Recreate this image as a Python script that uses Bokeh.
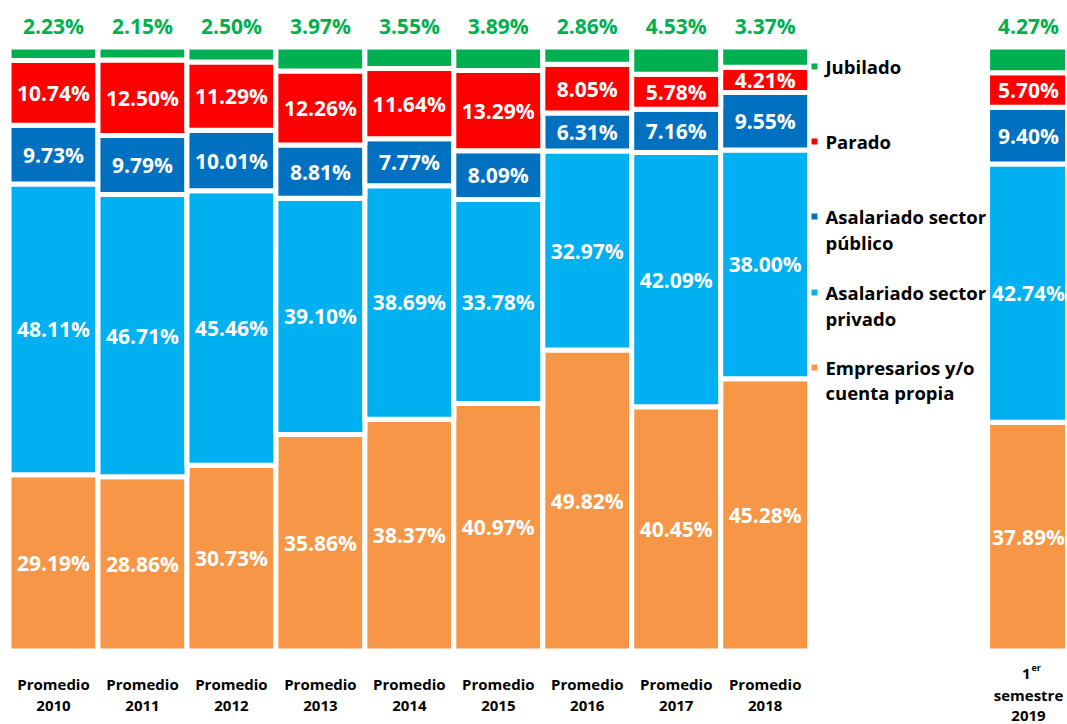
from bokeh.plotting import figure
from bokeh.models import ColumnDataSource, Range1d
from bokeh.core.properties import value
from bokeh.embed import file_html
from bokeh.resources import INLINE
import numpy as np

# ---------------- data ----------------
periods = ["Promedio\n2010", "Promedio\n2011", "Promedio\n2012", "Promedio\n2013",
           "Promedio\n2014", "Promedio\n2015", "Promedio\n2016", "Promedio\n2017",
           "Promedio\n2018", "1er\nsemestre\n2019"]
series_names = ["Empresarios y/o\ncuenta propia", "Asalariado sector\nprivado",
                "Asalariado sector\npúblico", "Parado", "Jubilado"]
empresarios = [29.19, 28.86, 30.73, 35.86, 38.37, 40.97, 49.82, 40.45, 45.28, 37.89]
privado     = [48.11, 46.71, 45.46, 39.10, 38.69, 33.78, 32.97, 42.09, 38.00, 42.74]
publico     = [9.73, 9.79, 10.01, 8.81, 7.77, 8.09, 6.31, 7.16, 9.55, 9.40]
parado      = [10.74, 12.50, 11.29, 12.26, 11.64, 13.29, 8.05, 5.78, 4.21, 5.70]
jubilado    = [2.23, 2.15, 2.50, 3.97, 3.55, 3.89, 2.86, 4.53, 3.37, 4.27]
colors = ["#F79646", "#00B0F0", "#0070C0", "#FF0000", "#00B050"]

# ---------------- geometry ----------------
W, H = 1067, 724
OFF = 0                        # page offset of the figure
X0_PAGE, SX = 53.0, 88.96      # page x of first bar centre, px per slot
Y0_PAGE, SY = 650.5, 6.04      # page y of 0 %, px per percent
def dx(page_x):
    return (page_x - X0_PAGE) / SX
def dy(page_y):
    return (Y0_PAGE - page_y) / SY

xpos = list(range(9)) + [11]   # gap before the 2019 bar (legend area)
# label positions: keep the last (partly cut) bar's labels inside the page
xlab = [min(x, dx(1028)) for x in xpos]

p = figure(width=W, height=H, output_backend="svg", toolbar_location=None,
           x_range=Range1d(dx(OFF), dx(OFF + W)), y_range=Range1d(dy(OFF + H), dy(OFF)),
           x_axis_location=None, y_axis_location=None, min_border=0)
p.outline_line_color = None
p.xgrid.visible = False
p.ygrid.visible = False
p.background_fill_color = "white"
p.border_fill_color = "white"

FONT = value("Open Sans")
vals = np.array([empresarios, privado, publico, parado, jubilado])
shares = vals / vals.sum(axis=0) * 100.0      # 100 % stacked, as in the original
tops = np.cumsum(shares, axis=0)
bottoms = tops - shares

for i in range(5):
    src = ColumnDataSource(dict(x=xpos, xl=xlab, bottom=bottoms[i], top=tops[i],
                                mid=(bottoms[i] + tops[i]) / 2,
                                lab=["%.2f%%" % v for v in vals[i]]))
    p.vbar(x="x", bottom="bottom", top="top", width=1.0, source=src,
           fill_color=colors[i], line_color="white", line_width=5)
    if i < 4:
        p.text(x="xl", y="mid", text="lab", source=src, text_color="white",
               text_font=FONT, text_font_style="bold", text_font_size="21px",
               text_align="center", text_baseline="middle")

# top green labels
top_src = ColumnDataSource(dict(x=xlab, y=[dy(25)] * len(xpos),
                                lab=["%.2f%%" % v for v in jubilado]))
p.text(x="x", y="y", text="lab", source=top_src, text_color="#00B050",
       text_font=FONT, text_font_style="bold", text_font_size="21px",
       text_align="center", text_baseline="middle")

# category labels
cx, cy, ct = [], [], []
for x, lab in zip(xlab, periods):
    lines = lab.split("\n")
    ys = [683, 705] if len(lines) == 2 else [672, 694, 715]
    for ln, yy in zip(lines, ys):
        if ln == "1er":
            continue
        cx.append(x); cy.append(dy(yy)); ct.append(ln)
p.text(x=cx, y=cy, text=ct, text_color="black", text_font=FONT,
       text_font_style="bold", text_font_size="15px",
       text_align="center", text_baseline="middle")
# "1er" with superscript
p.text(x=[dx(1030)], y=[dy(673)], text=["1"], text_color="black",
       text_font=FONT, text_font_style="bold", text_font_size="15px",
       text_align="right", text_baseline="middle")
p.text(x=[dx(1031)], y=[dy(667)], text=["er"], text_color="black",
       text_font=FONT, text_font_style="bold", text_font_size="9px",
       text_align="left", text_baseline="middle")

# legend (drawn manually)
legend_y = {"Jubilado": [66], "Parado": [141],
            "Asalariado sector\npúblico": [216, 242],
            "Asalariado sector\nprivado": [292, 318],
            "Empresarios y/o\ncuenta propia": [367, 392]}
lx, ly, lt, mx, my, mc = [], [], [], [], [], []
for i, name in enumerate(series_names):
    ys = legend_y[name]
    mx.append(dx(814)); my.append(dy(ys[0])); mc.append(colors[i])
    for ln, yy in zip(name.split("\n"), ys):
        lx.append(dx(825)); ly.append(dy(yy)); lt.append(ln)
p.scatter(x=mx, y=my, marker="square", size=6, fill_color=mc, line_color=None)
p.text(x=lx, y=ly, text=lt, text_color="black", text_font=FONT,
       text_font_style="bold", text_font_size="18.5px",
       text_align="left", text_baseline="middle")

open("out.html", "w").write(file_html(p, INLINE))
